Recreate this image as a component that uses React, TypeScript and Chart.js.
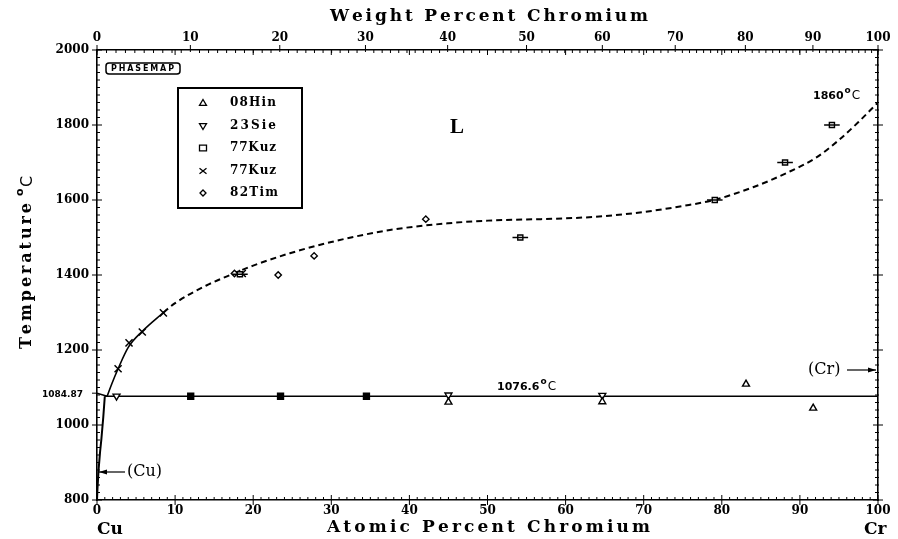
import React, { useEffect, useRef } from 'react';
import { Chart, registerables } from 'chart.js';

Chart.register(...registerables);

// ---- axes / tick labels ----
const atomicTicks = [0, 10, 20, 30, 40, 50, 60, 70, 80, 90, 100];
const weightTicks = [0, 10, 20, 30, 40, 50, 60, 70, 80, 90, 100];
const tempTicks = [800, 1000, 1200, 1400, 1600, 1800, 2000];
const CU_MELT = 1084.87;
const CR_MELT = 1860;
const EUTECTIC_T = 1076.6;

// ---- phase boundaries [at% Cr, T] ----
const liquidusSolid = [[1.3, 1076.6], [1.9, 1110], [2.7, 1150], [4.0, 1207], [5.8, 1250], [8.5, 1300]];
const liquidusDashed = [
  [8.5, 1300], [10, 1325], [14, 1372], [17.4, 1403], [20, 1425], [24.7, 1458], [30, 1488],
  [37.5, 1520], [45, 1538], [50, 1545], [55, 1548], [60, 1551], [65, 1557], [70, 1568],
  [75, 1584], [79, 1600], [84, 1634], [88.3, 1672], [92, 1712], [95, 1760], [97.5, 1808], [100, CR_MELT],
];
const eutecticLine = [[1.0, EUTECTIC_T], [100, EUTECTIC_T]];
const cuLiquidus = [[0, CU_MELT], [1.3, EUTECTIC_T]];
const cuSolvus = [[1.0, EUTECTIC_T], [0.8, 1020], [0.55, 960], [0.4, 930], [0.2, 880], [0.06, 830], [0, 800]];

// ---- experimental points ----
const hin08 = [[45, 1061], [64.7, 1062], [83.1, 1109], [91.7, 1045]];
const sie23 = [[2.5, 1077], [45, 1080], [64.7, 1079]];
const kuz77Sq = [[12, 1076.6], [23.5, 1076.6], [34.5, 1076.6], [18.3, 1402], [54.2, 1500], [79.1, 1600], [88.1, 1700], [94.1, 1800]];
const kuz77SqErr = [0, 0, 0, 1, 1, 1, 1, 1];
const kuz77X = [[2.7, 1150], [4.1, 1219], [5.8, 1248], [8.5, 1299], [18.6, 1404]];
const tim82 = [[17.6, 1404], [23.2, 1400], [27.8, 1451], [42.1, 1549]];

const legendLabels = ['08Hin', '23Sie', '77Kuz', '77Kuz', '82Tim'];

const toXY = (arr: number[][]) => arr.map(([x, y]) => ({ x, y }));
const wtToAt = (w: number) => {
  const cr = w / 51.996;
  const cu = (100 - w) / 63.546;
  return cr + cu === 0 ? 0 : (100 * cr) / (cr + cu);
};

const TICK_FONT = { family: '"DejaVu Serif"', size: 12, weight: 'bold' as const };

function drawSpaced(ctx: CanvasRenderingContext2D, text: string, x0: number, y: number, total: number) {
  const chars = text.split('');
  const widths = chars.map((c) => ctx.measureText(c).width);
  const sum = widths.reduce((a, b) => a + b, 0);
  const gap = chars.length > 1 ? (total - sum) / (chars.length - 1) : 0;
  let x = x0;
  ctx.textAlign = 'left';
  chars.forEach((c, i) => {
    ctx.fillText(c, x, y);
    x += widths[i] + gap;
  });
}

function drawDeg(ctx: CanvasRenderingContext2D, num: string, x: number, y: number, size: number) {
  ctx.textAlign = 'left';
  ctx.textBaseline = 'middle';
  ctx.font = `bold ${size}px "DejaVu Sans"`;
  ctx.fillText(num, x, y);
  let cx = x + ctx.measureText(num).width + 1;
  ctx.font = `bold ${Math.round(size * 0.85)}px "DejaVu Sans"`;
  ctx.fillText('o', cx, y - size * 0.45);
  cx += ctx.measureText('o').width + 1;
  ctx.font = `${size + 1}px "DejaVu Sans"`;
  ctx.fillText('C', cx, y);
}

function drawSymbol(ctx: CanvasRenderingContext2D, kind: string, x: number, y: number, r: number) {
  ctx.beginPath();
  if (kind === 'tri') {
    ctx.moveTo(x, y - r); ctx.lineTo(x + r, y + r * 0.7); ctx.lineTo(x - r, y + r * 0.7); ctx.closePath();
  } else if (kind === 'triDown') {
    ctx.moveTo(x, y + r); ctx.lineTo(x + r, y - r * 0.7); ctx.lineTo(x - r, y - r * 0.7); ctx.closePath();
  } else if (kind === 'sq') {
    ctx.rect(x - r, y - r * 0.8, 2 * r, 1.6 * r);
  } else if (kind === 'x') {
    ctx.moveTo(x - r, y - r * 0.8); ctx.lineTo(x + r, y + r * 0.8);
    ctx.moveTo(x + r, y - r * 0.8); ctx.lineTo(x - r, y + r * 0.8);
  } else if (kind === 'dia') {
    ctx.moveTo(x, y - r); ctx.lineTo(x + r, y); ctx.lineTo(x, y + r); ctx.lineTo(x - r, y); ctx.closePath();
  }
  ctx.stroke();
}

const decorPlugin = {
  id: 'decor',
  afterDatasetsDraw(chart: any) {
    const ctx: CanvasRenderingContext2D = chart.ctx;
    const xs = chart.scales.x;
    const ys = chart.scales.y;
    ctx.save();
    ctx.strokeStyle = '#000';
    ctx.lineWidth = 1.5;
    kuz77Sq.forEach(([x, y], i) => {
      const e = kuz77SqErr[i];
      if (!e) return;
      const py = ys.getPixelForValue(y);
      ctx.beginPath();
      ctx.moveTo(xs.getPixelForValue(x - e), py);
      ctx.lineTo(xs.getPixelForValue(x + e), py);
      ctx.stroke();
    });
    ctx.restore();
  },
  afterDraw(chart: any) {
    const ctx: CanvasRenderingContext2D = chart.ctx;
    const xs = chart.scales.x;
    const ys = chart.scales.y;
    const { left, right, top, bottom } = chart.chartArea;
    ctx.save();
    ctx.strokeStyle = '#000';
    ctx.fillStyle = '#000';
    ctx.lineWidth = 1;
    const line = (x1: number, y1: number, x2: number, y2: number) => {
      ctx.beginPath(); ctx.moveTo(x1, y1); ctx.lineTo(x2, y2); ctx.stroke();
    };
    for (let a = 0; a <= 100; a++) {
      const px = xs.getPixelForValue(a);
      if (a % 10 === 0) line(px, bottom - 5, px, bottom + 5);
      else line(px, bottom - 3, px, bottom);
    }
    atomicTicks.forEach((a) => {
      const px = xs.getPixelForValue(a);
      line(px, top, px, top + 5);
    });
    for (let w = 0; w <= 100; w++) {
      const px = xs.getPixelForValue(wtToAt(w));
      if (w % 10 === 0) line(px, top - 5, px, top + 2);
      else line(px, top, px, top + 3);
    }
    for (let t = 800; t <= 2000; t += 20) {
      const py = ys.getPixelForValue(t);
      if (t % 200 === 0) {
        line(left - 5, py, left + 5, py);
        line(right - 5, py, right + 5, py);
      } else {
        line(left - 1, py, left + 3, py);
        line(right - 3, py, right + 1, py);
      }
    }
    const pMelt = ys.getPixelForValue(CU_MELT);
    line(left - 5, pMelt, left, pMelt);

    ctx.textBaseline = 'middle';
    ctx.font = 'bold 17px "DejaVu Serif"';
    drawSpaced(ctx, 'Weight Percent Chromium', 330, 17, 318);
    drawSpaced(ctx, 'Atomic Percent Chromium', 327, 528, 323);
    ctx.font = 'bold 17px "DejaVu Serif"';
    ctx.textAlign = 'left';
    ctx.fillText('Cu', 97, 530);
    ctx.fillText('Cr', 864, 530);

    ctx.save();
    ctx.translate(27, 349);
    ctx.rotate(-Math.PI / 2);
    ctx.font = 'bold 16px "DejaVu Serif"';
    ctx.textBaseline = 'middle';
    drawSpaced(ctx, 'Temperature', 0, 0, 146);
    ctx.font = 'bold 11px "DejaVu Sans"';
    ctx.fillText('o', 153, -7);
    ctx.font = '16px "DejaVu Sans"';
    ctx.fillText('C', 162, 1);
    ctx.restore();

    ctx.font = 'bold 9px "DejaVu Sans"';
    ctx.textAlign = 'right';
    ctx.textBaseline = 'middle';
    ctx.fillText(String(CU_MELT), 83, pMelt + 1);

    drawDeg(ctx, '1860', 813, 96, 11);
    drawDeg(ctx, '1076.6', 497, 387, 11);
    ctx.font = 'bold 21px "Liberation Serif"';
    ctx.textAlign = 'center';
    ctx.textBaseline = 'middle';
    ctx.fillText('L', 457, 128);

    ctx.lineWidth = 1.2;
    const yCu = 472;
    line(left + 2, yCu, left + 28, yCu);
    ctx.beginPath();
    ctx.moveTo(left + 2, yCu); ctx.lineTo(left + 10, yCu - 2.5); ctx.lineTo(left + 10, yCu + 2.5); ctx.closePath(); ctx.fill();
    ctx.font = '16px "DejaVu Serif"';
    ctx.textAlign = 'left';
    ctx.fillText('(Cu)', left + 30, yCu);
    const yCr = 370;
    ctx.fillText('(Cr)', 808, yCr);
    line(847, yCr, right - 2, yCr);
    ctx.beginPath();
    ctx.moveTo(right - 2, yCr); ctx.lineTo(right - 10, yCr - 2.5); ctx.lineTo(right - 10, yCr + 2.5); ctx.closePath(); ctx.fill();

    ctx.lineWidth = 1.5;
    ctx.beginPath();
    const bx = 106, by = 63, bw = 74, bh = 11;
    ctx.moveTo(bx + 3, by); ctx.lineTo(bx + bw - 3, by); ctx.quadraticCurveTo(bx + bw, by, bx + bw, by + 3);
    ctx.lineTo(bx + bw, by + bh - 3); ctx.quadraticCurveTo(bx + bw, by + bh, bx + bw - 3, by + bh);
    ctx.lineTo(bx + 3, by + bh); ctx.quadraticCurveTo(bx, by + bh, bx, by + bh - 3);
    ctx.lineTo(bx, by + 3); ctx.quadraticCurveTo(bx, by, bx + 3, by);
    ctx.stroke();
    ctx.font = 'bold 8px "DejaVu Sans"';
    ctx.textBaseline = 'middle';
    drawSpaced(ctx, 'PHASEMAP', bx + 5, by + bh / 2 + 0.5, bw - 11);

    ctx.lineWidth = 2;
    ctx.strokeRect(178, 88, 124, 120);
    const kinds = ['tri', 'triDown', 'sq', 'x', 'dia'];
    const rows = [103, 126, 148, 171, 193];
    ctx.lineWidth = 1.3;
    kinds.forEach((k, i) => {
      drawSymbol(ctx, k, 203, rows[i], k === 'dia' ? 3 : 3.5);
      ctx.font = 'bold 12px "DejaVu Serif"';
      ctx.textBaseline = 'middle';
      drawSpaced(ctx, legendLabels[i], 230, rows[i], legendLabels[i] === '82Tim' ? 48 : 46);
    });
    ctx.restore();
  },
};

export default function App() {
  const ref = useRef<HTMLCanvasElement | null>(null);
  useEffect(() => {
    document.body.style.margin = '0';
    if (!ref.current) return;
    const marker = (data: number[][], style: any, extra: any = {}) => ({
      data: toXY(data),
      showLine: false,
      pointStyle: style,
      pointRadius: 4,
      borderColor: '#000',
      backgroundColor: '#fff',
      pointBorderWidth: 1.4,
      ...extra,
    });
    const lineDs = (data: number[][], extra: any = {}) => ({
      data: toXY(data),
      showLine: true,
      pointRadius: 0,
      borderColor: '#000',
      borderWidth: 1.6,
      fill: false,
      ...extra,
    });
    const chart = new Chart(ref.current, {
      type: 'scatter',
      data: {
        datasets: [
          marker(hin08, 'triangle'),
          marker(sie23, 'triangle', { rotation: 180 }),
          marker(kuz77Sq, 'rect', {
            pointRadius: (c: any) => (c.raw && c.raw.y < 1100 ? 4.2 : 3.6),
            backgroundColor: (c: any) => (c.raw && c.raw.y < 1100 ? '#000' : '#fff'),
          }),
          marker(kuz77X, 'crossRot', { pointRadius: 5, pointBorderWidth: 1.5 }),
          marker(tim82, 'rectRot', { pointRadius: 3.2 }),
          lineDs(liquidusSolid, { cubicInterpolationMode: 'monotone' }),
          lineDs(liquidusDashed, { cubicInterpolationMode: 'monotone', borderDash: [6, 4], borderWidth: 2 }),
          lineDs(eutecticLine),
          lineDs(cuLiquidus),
          lineDs(cuSolvus, { borderWidth: 2 }),
        ] as any,
      },
      options: {
        animation: false,
        responsive: false,
        devicePixelRatio: 1,
        events: [],
        layout: { padding: 0 },
        plugins: { legend: { display: false }, tooltip: { enabled: false } },
        scales: {
          x: {
            type: 'linear',
            position: 'bottom',
            min: 0,
            max: 100,
            afterBuildTicks: (s: any) => { s.ticks = atomicTicks.map((v) => ({ value: v })); },
            ticks: { autoSkip: false, maxRotation: 0, padding: 4, color: '#000', font: TICK_FONT, callback: (v: any) => String(v) },
            grid: { drawOnChartArea: false, drawTicks: false },
            border: { color: '#000', width: 1.6 },
            afterFit: (s: any) => { s.height = 39; },
          },
          x2: {
            type: 'linear',
            position: 'top',
            min: 0,
            max: 100,
            afterBuildTicks: (s: any) => { s.ticks = weightTicks.map((w) => ({ value: wtToAt(w) })); },
            ticks: {
              autoSkip: false,
              maxRotation: 0,
              padding: 5,
              color: '#000',
              font: TICK_FONT,
              callback: (_v: any, i: number) => String(weightTicks[i]),
            },
            grid: { drawOnChartArea: false, drawTicks: false },
            border: { color: '#000', width: 1.6 },
            afterFit: (s: any) => { s.height = 50; },
          },
          y: {
            type: 'linear',
            position: 'left',
            min: 800,
            max: 2000,
            afterBuildTicks: (s: any) => { s.ticks = tempTicks.map((v) => ({ value: v })); },
            ticks: { autoSkip: false, padding: 8, color: '#000', font: TICK_FONT, callback: (v: any) => String(v) },
            grid: { drawOnChartArea: false, drawTicks: false },
            border: { color: '#000', width: 1.6 },
            afterFit: (s: any) => { s.width = 97; },
          },
          y2: {
            type: 'linear',
            position: 'right',
            min: 800,
            max: 2000,
            ticks: { display: false },
            grid: { drawOnChartArea: false, drawTicks: false },
            border: { color: '#000', width: 1.6 },
            afterFit: (s: any) => { s.width = 20; },
          },
        },
      } as any,
      plugins: [decorPlugin],
    });
    return () => chart.destroy();
  }, []);
  return <canvas ref={ref} width={898} height={539} style={{ display: 'block' }} />;
}
